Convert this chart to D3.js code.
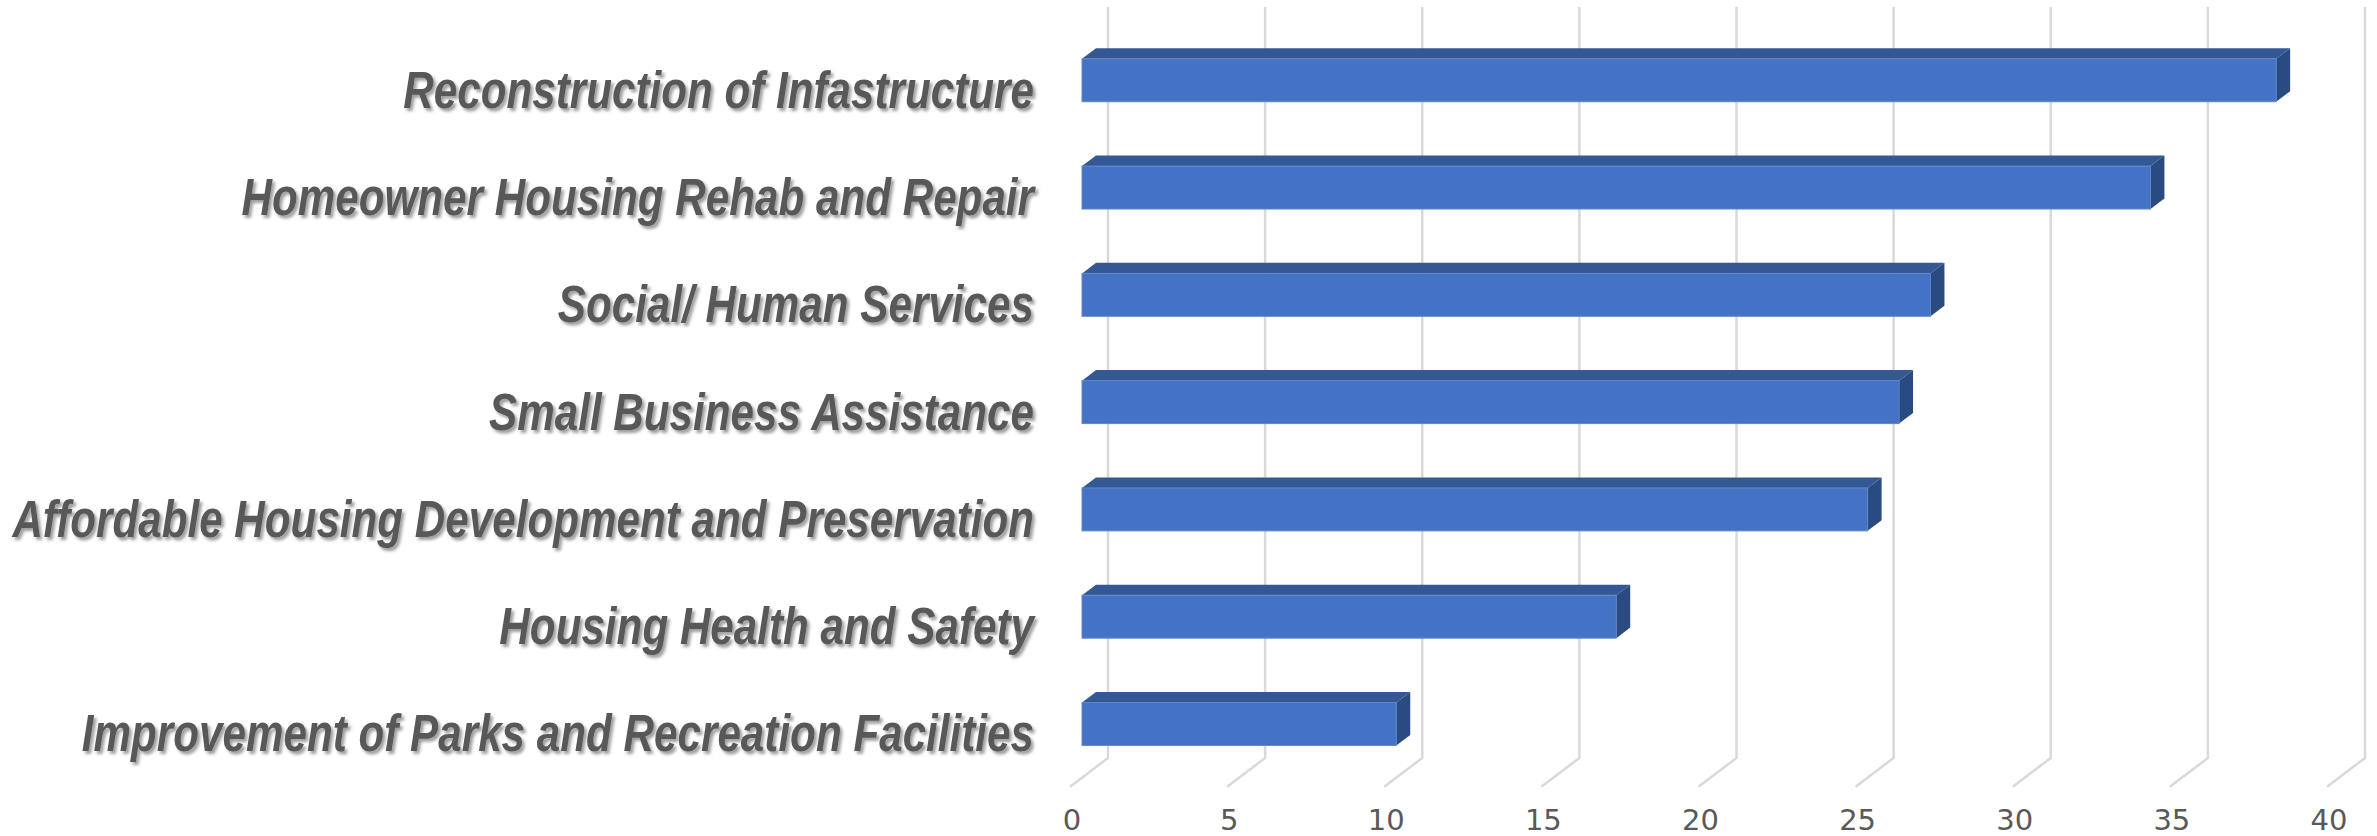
<!DOCTYPE html>
<html>
<head>
<meta charset="utf-8">
<script src="https://cdn.jsdelivr.net/npm/d3@7"></script>
<style>
  html, body { margin: 0; padding: 0; background: #fff; }
  svg { display: block; }
</style>
</head>
<body>
<div id="chart"></div>
<script>
// horizontal 3D bar chart
const categories = [
  "Reconstruction of Infastructure",
  "Homeowner Housing Rehab and Repair",
  "Social/ Human Services",
  "Small Business Assistance",
  "Affordable Housing Development and Preservation",
  "Housing Health and Safety",
  "Improvement of Parks and Recreation Facilities"
];
const values = [38, 34, 27, 26, 25, 17, 10];
const ticks = [0, 5, 10, 15, 20, 25, 30, 35, 40];

(function(){
  const W = 2377, H = 836;
  const depthX = 38, depthY = 28.7;     // 3D depth offset of the back wall
  const d0 = 0.316, d1 = 0.684;          // bar front / back depth
  const labelRight = 1034, labelMaxW = 1022; // narrow font -> squeeze labels

  const svg = d3.select("#chart").append("svg")
    .attr("width", W).attr("height", H);

  const defs = svg.append("defs");
  const f = defs.append("filter").attr("id", "shadow")
    .attr("x", "-5%").attr("y", "-30%").attr("width", "110%").attr("height", "160%");
  f.append("feDropShadow")
    .attr("dx", 2.5).attr("dy", 3).attr("stdDeviation", 1.6)
    .attr("flood-color", "#000").attr("flood-opacity", 0.38);

  const x = d3.scaleLinear().domain([0, 40]).range([1070, 2327]);
  const y = d3.scaleBand().domain(categories).range([35.7, 786.7])
    .paddingInner(0.6).paddingOuter(0.3);

  const proj = (v, yy, d) => [x(v) + depthX * d, yy - depthY * d];

  // gridlines: back wall vertical + floor diagonal
  const grid = svg.append("g");
  ticks.forEach(t => {
    const top = proj(t, y.range()[0], 1);
    const bot = proj(t, y.range()[1], 1);
    const front = proj(t, y.range()[1], 0);
    grid.append("polyline")
      .attr("points", [top, bot, front].map(p => p.join(",")).join(" "))
      .attr("fill", "none")
      .attr("stroke", "#d9d9d9")
      .attr("stroke-width", 2.5);
  });

  // tick labels
  svg.append("g").selectAll("text")
    .data(ticks).enter().append("text")
    .attr("x", d => x(d) + 2)
    .attr("y", 830)
    .attr("text-anchor", "middle")
    .attr("font-family", "'DejaVu Sans', sans-serif")
    .attr("font-size", 29)
    .attr("fill", "#595959")
    .text(d => d);

  // bars
  const data = categories.map((c, i) => ({ cat: c, value: values[i] }));
  const bars = svg.append("g").selectAll("g").data(data).enter().append("g");

  const pts = arr => arr.map(p => p.join(",")).join(" ");

  bars.append("polygon")   // top face
    .attr("points", d => {
      const t = y(d.cat);
      return pts([proj(0, t, d0), proj(d.value, t, d0), proj(d.value, t, d1), proj(0, t, d1)]);
    })
    .attr("fill", "#345894");

  bars.append("polygon")   // right side
    .attr("points", d => {
      const t = y(d.cat), b = t + y.bandwidth();
      return pts([proj(d.value, t, d0), proj(d.value, t, d1), proj(d.value, b, d1), proj(d.value, b, d0)]);
    })
    .attr("fill", "#2a4a82");

  bars.append("rect")      // front face
    .attr("x", d => proj(0, 0, d0)[0])
    .attr("y", d => proj(0, y(d.cat), d0)[1])
    .attr("width", d => x(d.value) - x(0))
    .attr("height", y.bandwidth())
    .attr("fill", "#4472c4")
    .attr("stroke", "#5f86cc")
    .attr("stroke-width", 1);

  // category labels (condensed bold italic, emulated with a horizontal squeeze)
  const lab = svg.append("g")
    .attr("filter", "url(#shadow)");
  const inner = lab.append("g");
  const texts = inner.selectAll("text")
    .data(categories).enter().append("text")
    .attr("x", 0)
    .attr("y", d => y(d) + y.bandwidth() / 2)
    .attr("dy", "0.36em")
    .attr("text-anchor", "end")
    .attr("font-family", "'Liberation Sans', Arial, sans-serif")
    .attr("font-size", 51)
    .attr("font-weight", "700")
    .attr("font-style", "italic")
    .attr("fill", "#595959")
    .text(d => d);

  const maxW = d3.max(texts.nodes(), n => n.getComputedTextLength());
  const sx = maxW > 0 ? labelMaxW / maxW : 0.82;
  inner.attr("transform", `translate(${labelRight},0) scale(${sx},1)`);
})();
</script>
</body>
</html>
